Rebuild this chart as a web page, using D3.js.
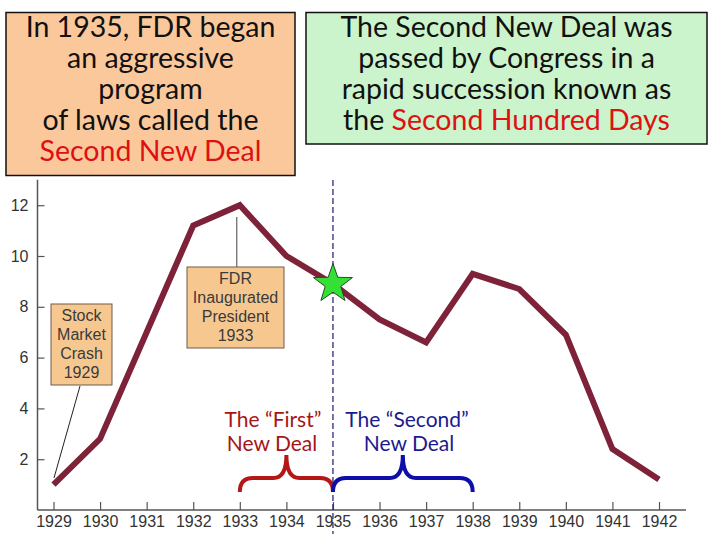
<!DOCTYPE html>
<html>
<head>
<meta charset="utf-8">
<script src="https://cdn.jsdelivr.net/npm/d3@7"></script>
<style>
  body { margin: 0; background: #fff; }
  svg { display: block; }
</style>
</head>
<body>
<div id="chart"></div>
<script>
// data (unemployment-like curve, 1929-1942)
var years  = [1929, 1930, 1931, 1932, 1933, 1934, 1935, 1936, 1937, 1938, 1939, 1940, 1941, 1942];
var values = [1.0, 2.8, 7.0, 11.2, 12.0, 10.0, 8.9, 7.5, 6.6, 9.3, 8.7, 6.9, 2.4, 1.2];
var yTicks = [2, 4, 6, 8, 10, 12];

var firstDeal  = [1933, 1935];
var secondDeal = [1935, 1938];
var markYear = 1935;

var W = 720, H = 540;
var svg = d3.select("#chart").append("svg").attr("width", W).attr("height", H);

var x = d3.scaleLinear().domain([1929, 1942]).range([53.5, 659]);
var y = d3.scaleLinear().domain([0, 13]).range([510, 179.8]);

var axisColor = "#555";
var tickFont = "16px 'Liberation Sans', Arial, sans-serif";

// axes
var gx = svg.append("g").attr("transform", "translate(0," + y(0) + ")")
  .call(d3.axisBottom(x).tickValues(years).tickFormat(d3.format("d"))
        .tickSize(-8).tickSizeOuter(0).tickPadding(6));
gx.select(".domain").remove();
gx.selectAll("line").attr("stroke", axisColor).attr("stroke-width", 1.2);
gx.selectAll("text").attr("fill", "#333").style("font", tickFont);

var gy = svg.append("g").attr("transform", "translate(37.5,0)")
  .call(d3.axisLeft(y).tickValues(yTicks).tickSize(-7).tickSizeOuter(0).tickPadding(9));
gy.select(".domain").remove();
gy.selectAll("line").attr("stroke", axisColor).attr("stroke-width", 1.2);
gy.selectAll("text").attr("fill", "#333").style("font", tickFont);

svg.append("line").attr("x1", 37.5).attr("x2", 37.5).attr("y1", y(13)).attr("y2", y(0))
  .attr("stroke", axisColor).attr("stroke-width", 1.5);
svg.append("line").attr("x1", 37.5).attr("x2", 686).attr("y1", y(0)).attr("y2", y(0))
  .attr("stroke", axisColor).attr("stroke-width", 1.5);

// connector lines for the little boxes
svg.append("line").attr("x1", x(1933) - 3).attr("x2", x(1933) - 3).attr("y1", 217).attr("y2", 267)
  .attr("stroke", "#444").attr("stroke-width", 1);
svg.append("line").attr("x1", 80).attr("x2", 54).attr("y1", 386).attr("y2", 478)
  .attr("stroke", "#222").attr("stroke-width", 1);

// the curve
var line = d3.line().x(function(d, i) { return x(years[i]); }).y(function(d) { return y(d); });
svg.append("path").datum(values).attr("d", line)
  .attr("fill", "none").attr("stroke", "#7d2238").attr("stroke-width", 6)
  .attr("stroke-linejoin", "miter");

// dashed 1935 line
svg.append("line").attr("x1", x(markYear)).attr("x2", x(markYear)).attr("y1", 180).attr("y2", 534)
  .attr("stroke", "#1a1a6e").attr("stroke-width", 1.2).attr("stroke-dasharray", "6,3");

// small annotation boxes
function noteBox(x0, y0, w, h, lines, fs, lh) {
  svg.append("rect").attr("x", x0).attr("y", y0).attr("width", w).attr("height", h)
    .attr("fill", "#f6c890").attr("stroke", "#6e5a48").attr("stroke-width", 1);
  var t = svg.append("text").attr("text-anchor", "middle").attr("fill", "#3a3a3a")
    .style("font", fs + "px 'Liberation Sans', Arial, sans-serif");
  lines.forEach(function(s, i) {
    t.append("tspan").attr("x", x0 + w / 2).attr("y", y0 + 17 + i * lh).text(s);
  });
}
noteBox(187, 267, 97, 81, ["FDR", "Inaugurated", "President", "1933"], 16, 19);
noteBox(51, 304, 61, 81, ["Stock", "Market", "Crash", "1929"], 16, 19);

// star at 1935
var star = [];
for (var k = 0; k < 10; k++) {
  var r = k % 2 === 0 ? 20.5 : 8.2;
  var a = -Math.PI / 2 + k * Math.PI / 5;
  star.push([Math.cos(a) * r, Math.sin(a) * r]);
}
svg.append("path")
  .attr("d", "M" + star.join("L") + "Z")
  .attr("transform", "translate(" + x(markYear) + "," + y(values[years.indexOf(markYear)]) + ")")
  .attr("fill", "#33e033").attr("stroke", "#2b4a2b").attr("stroke-width", 1);

// braces
function brace(a, b, color) {
  var x0 = x(a), x1 = x(b), m = (x0 + x1) / 2, yb = 492, yh = 478, yc = 455, r = 13;
  var d = "M" + x0 + "," + yb +
    "Q" + x0 + "," + yh + " " + (x0 + r) + "," + yh +
    "L" + (m - r) + "," + yh +
    "Q" + m + "," + yh + " " + m + "," + yc +
    "Q" + m + "," + yh + " " + (m + r) + "," + yh +
    "L" + (x1 - r) + "," + yh +
    "Q" + x1 + "," + yh + " " + x1 + "," + yb;
  svg.append("path").attr("d", d).attr("fill", "none").attr("stroke", color)
    .attr("stroke-width", 4).attr("stroke-linecap", "butt");
}
brace(firstDeal[0], firstDeal[1], "#b51717");
brace(secondDeal[0], secondDeal[1], "#0e0ea8");

// two labels over the braces, one text per line
var lbl = "21px Lato, 'Open Sans', sans-serif";
function label(cx, cy, s, color) {
  svg.append("text").attr("text-anchor", "middle").attr("fill", color)
    .attr("x", cx).attr("y", cy).style("font", lbl).text(s);
}
label(273, 427, "The \u201cFirst\u201d", "#a51616");
label(272, 451, "New Deal", "#a51616");
label(407, 427, "The \u201cSecond\u201d", "#1b1b8f");
label(409, 451, "New Deal", "#1b1b8f");

// top boxes
function bigBox(x0, y0, w, h, fill, lines) {
  svg.append("rect").attr("x", x0).attr("y", y0).attr("width", w).attr("height", h)
    .attr("fill", fill).attr("stroke", "#111").attr("stroke-width", 1.5);
  lines.forEach(function(parts, i) {
    var t = svg.append("text").attr("text-anchor", "middle").attr("fill", "#111")
      .attr("x", x0 + w / 2).attr("y", y0 + 24.5 + i * 31)
      .style("font", "28.5px Lato, 'Open Sans', sans-serif");
    parts.forEach(function(p) {
      t.append("tspan").text(p[0]).attr("fill", p[1] || "#111");
    });
  });
}
bigBox(6, 12.5, 289, 163, "#fbc89c", [
  [["In 1935, FDR began"]],
  [["an aggressive"]],
  [["program"]],
  [["of laws called the"]],
  [["Second New Deal", "#dd1111"]]
]);
bigBox(306, 12.5, 401, 131.5, "#ccf4cc", [
  [["The Second New Deal was"]],
  [["passed by Congress in a"]],
  [["rapid succession known as"]],
  [["the "], ["Second Hundred Days", "#dd1111"]]
]);
</script>
</body>
</html>
